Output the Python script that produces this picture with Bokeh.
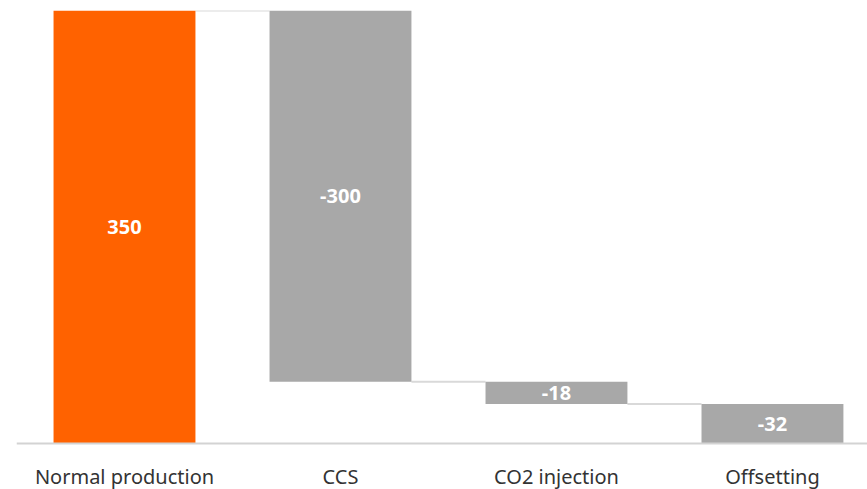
from bokeh.plotting import figure
from bokeh.models import ColumnDataSource, Range1d, Span
from bokeh.embed import file_html
from bokeh.resources import INLINE
from bokeh.core.properties import value

categories = ["Normal production", "CCS", "CO2 injection", "Offsetting"]
values = [350, -300, -18, -32]
colors = ["#FF6200", "#A8A8A8", "#A8A8A8", "#A8A8A8"]

xs = list(range(len(categories)))
tops, bottoms, mids, labels = [], [], [], []
level = 0
for v in values:
    start = level
    level = level + v
    tops.append(max(start, level))
    bottoms.append(min(start, level))
    mids.append((start + level) / 2)
    labels.append(str(v))

src = ColumnDataSource(dict(x=xs, top=tops, bottom=bottoms, mid=mids,
                            label=labels, color=colors, cat=categories,
                            zero=[0] * len(xs)))

# pixel layout: 0 sits 46 px above the bottom of a 479 px tall frame
px_per_unit = 433 / 350
bw = 0.657
p = figure(width=867, height=489, output_backend="svg", toolbar_location=None,
           x_range=Range1d(-0.5, 3.44),
           y_range=Range1d(350 - 479 / px_per_unit, 350),
           min_border_left=16, min_border_right=0, min_border_top=10,
           min_border_bottom=0)
p.outline_line_color = None
p.xgrid.visible = False
p.ygrid.visible = False
p.yaxis.visible = False
p.xaxis.visible = False

# baseline
p.add_layout(Span(location=0, dimension="width", line_color="#D3D3D3", line_width=2))

# connectors
cx0, cx1, cy = [], [], []
lev = 0
for i, v in enumerate(values[:-1]):
    lev += v
    cx0.append(i + bw / 2)
    cx1.append(i + 1 - bw / 2)
    cy.append(lev)
p.segment(x0=cx0, y0=cy, x1=cx1, y1=cy, line_color="#D9D9D9", line_width=2)

p.vbar(x="x", top="top", bottom="bottom", width=bw, source=src,
       fill_color="color", line_color=None)

p.text(x="x", y="mid", text="label", source=src, text_color="white",
       text_font=value("Noto Sans"), text_font_size="20px", text_font_style="bold",
       text_align="center", text_baseline="middle")

# category labels below the baseline
p.text(x="x", y="zero", text="cat", source=src, text_color="#333333",
       text_font=value("Noto Sans"), text_font_size="20px",
       text_align="center", text_baseline="middle", y_offset=33)

open("out.html", "w").write(file_html(p, INLINE))
